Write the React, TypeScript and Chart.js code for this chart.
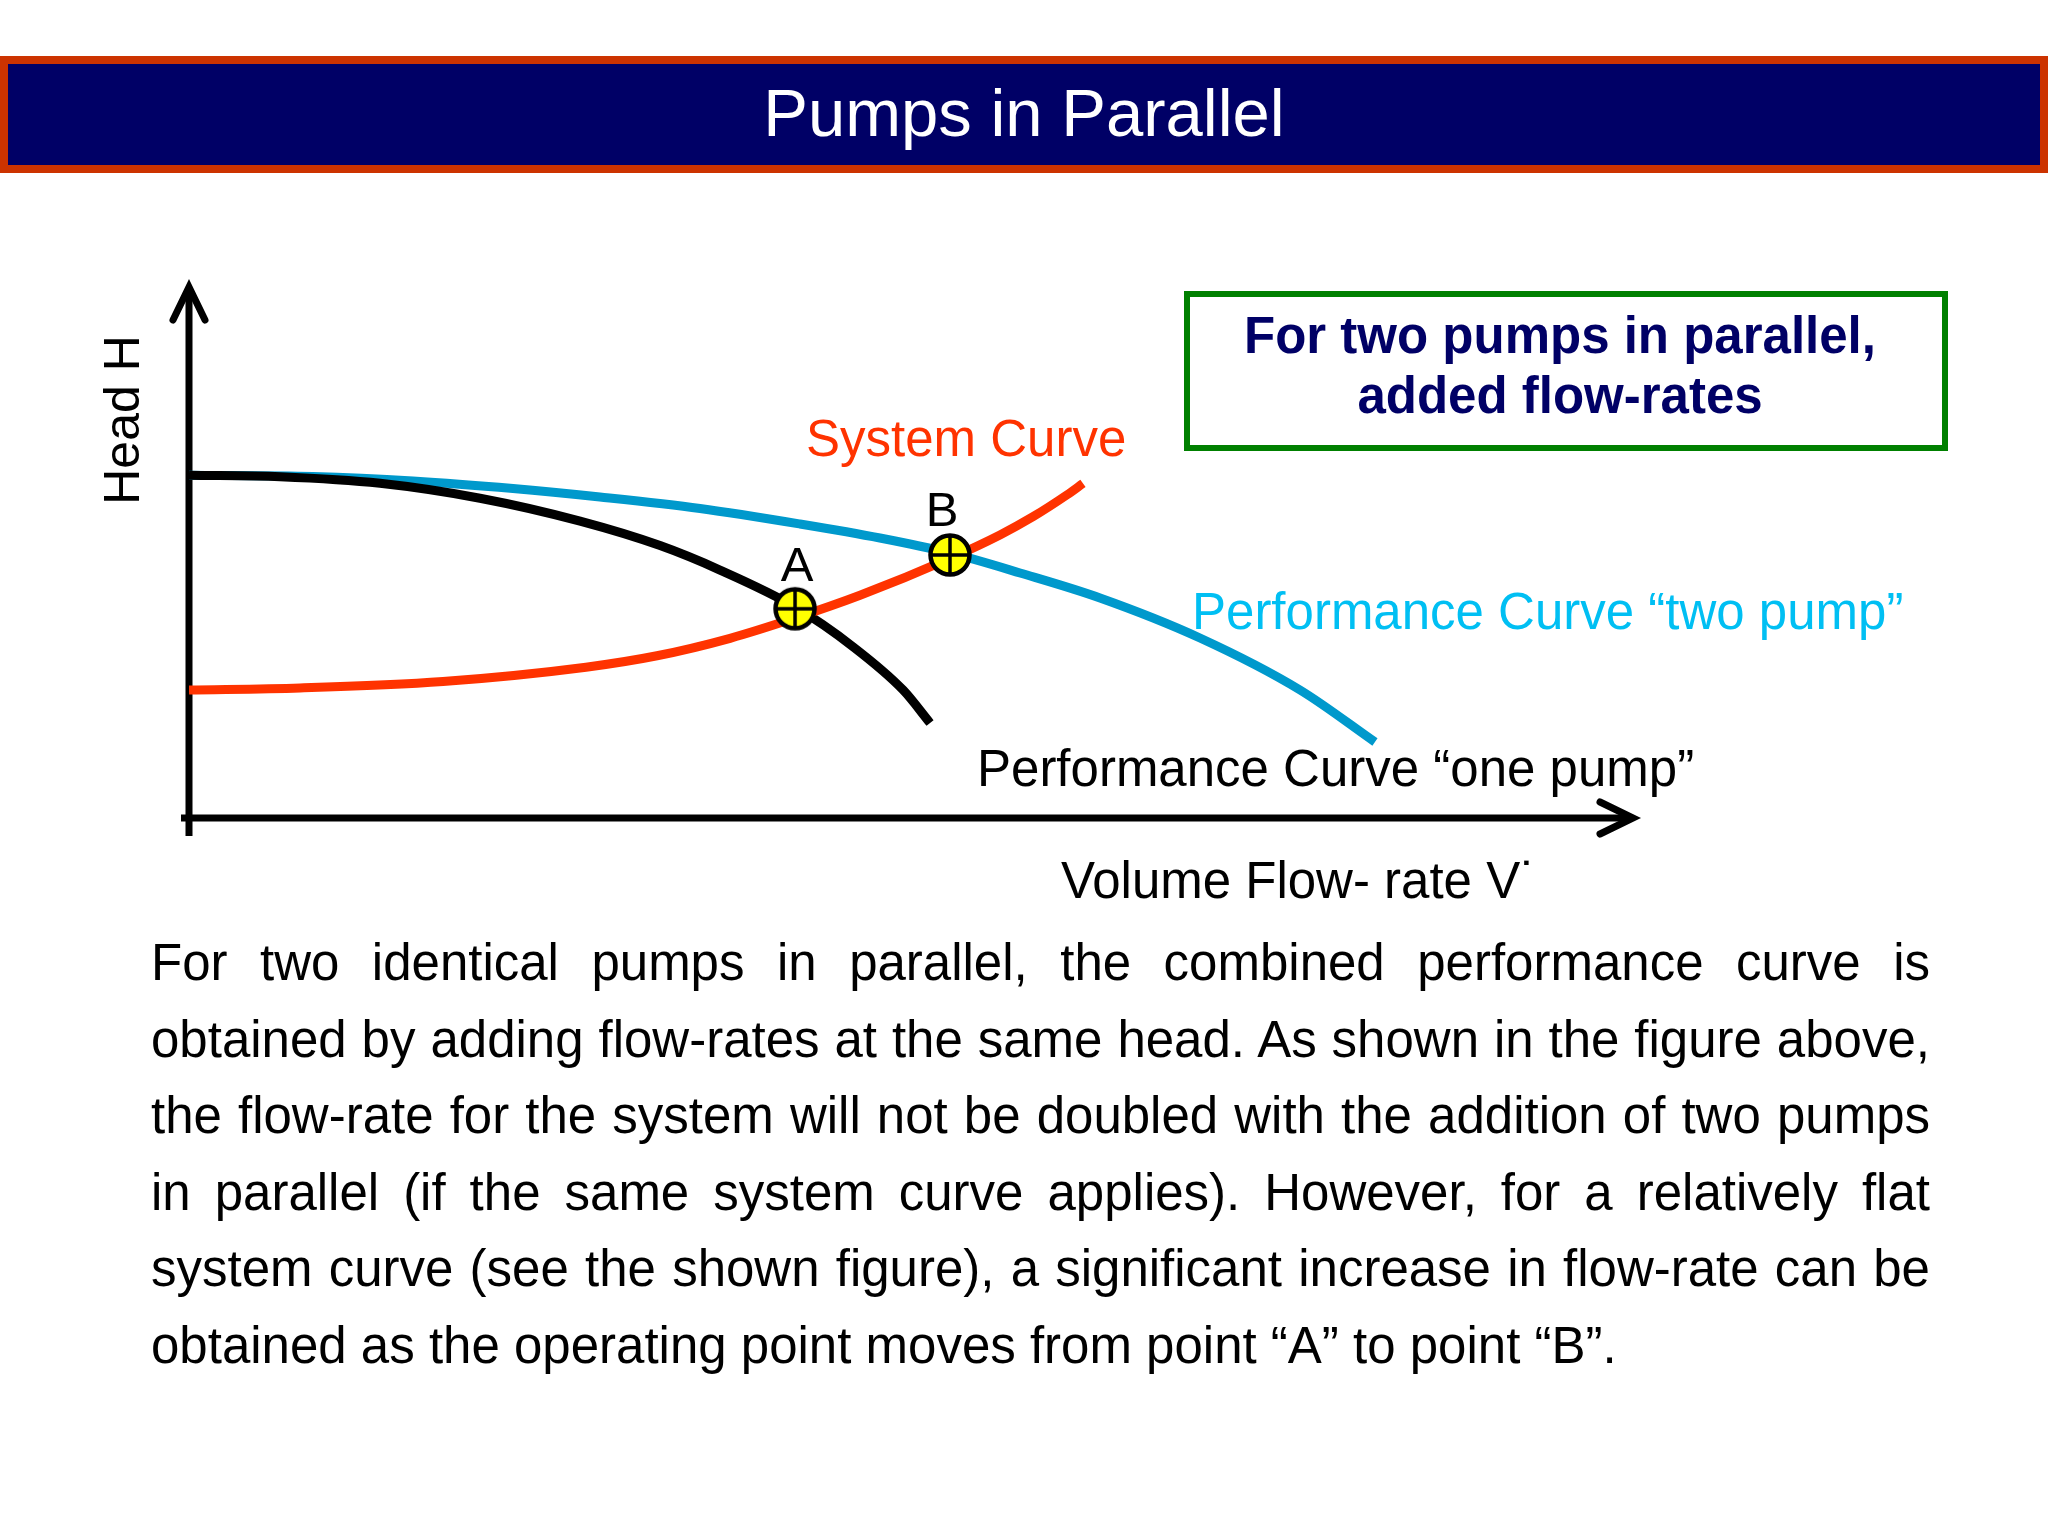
import React, { useEffect, useRef } from 'react';
import { Chart, registerables } from 'chart.js';

Chart.register(...registerables);

const FONT = '"Liberation Sans", Arial, Helvetica, sans-serif';

// ---- Data (flow-rate in % of axis length, head in % of axis height) ----
const onePumpFlow = [0, 6.3, 13.23, 20.15, 27.08, 32.62, 36.77, 41.97, 45.98, 49.45, 51.32];
const onePumpHead = [64.54, 64.27, 63.03, 60.21, 55.9, 51.3, 46.7, 39.74, 32.26, 24.11, 17.89];

const twoPumpFlow = [0, 8.59, 15.51, 22.44, 28.46, 35.39, 42.31, 47.85, 52.7, 57.55, 63.09, 70.01, 76.94, 82.13];
const twoPumpHead = [64.54, 64.31, 63.47, 62.05, 60.45, 58.29, 55.37, 52.73, 49.91, 46.14, 41.43, 33.9, 24.11, 14.31];

const systemFlow = [0, 7.69, 17.59, 27.49, 32.41, 37.47, 41.97, 46.47, 52.7, 56.16, 58.45, 60.8, 61.91];
const systemHead = [24.11, 24.5, 25.71, 28.4, 30.55, 33.84, 37.65, 41.94, 48.89, 53.31, 56.74, 60.85, 63.01];

const pointLabels = ['A', 'B'];
const pointFlow = [41.97, 52.7];
const pointHead = [39.4, 49.53];

const titleText = 'Pumps in Parallel';
const boxLines = ['For two pumps in parallel,', 'added flow-rates'];
const yAxisTitle = 'Head H';
const xAxisTitle = 'Volume Flow- rate V˙';
const systemLabel = 'System Curve';
const twoPumpLabel = 'Performance Curve “two pump”';
const onePumpLabel = 'Performance Curve “one pump”';
const paragraphLines = [
  'For two identical pumps in parallel, the combined performance curve is',
  'obtained by adding flow-rates at the same head. As shown in the figure above,',
  'the flow-rate for the system will not be doubled with the addition of two pumps',
  'in parallel (if the same system curve applies). However, for a relatively flat',
  'system curve (see the shown figure), a significant increase in flow-rate can be',
  'obtained as the operating point moves from point “A” to point “B”.',
];

const toXY = (xs: number[], ys: number[]) => xs.map((x, i) => ({ x, y: ys[i] }));

export default function App() {
  const ref = useRef<HTMLCanvasElement>(null);

  useEffect(() => {
    if (!ref.current) return;
    const marker = document.createElement('canvas');
    marker.width = 48;
    marker.height = 48;
    const m = marker.getContext('2d')!;
    m.beginPath();
    m.arc(24, 24, 19.5, 0, Math.PI * 2);
    m.fillStyle = '#ffff00';
    m.fill();
    m.lineWidth = 4.5;
    m.strokeStyle = '#000';
    m.stroke();
    m.beginPath();
    m.lineWidth = 3.5;
    m.moveTo(24, 5);
    m.lineTo(24, 43);
    m.moveTo(5, 24);
    m.lineTo(43, 24);
    m.stroke();

    const axesPlugin = {
      id: 'arrowAxes',
      beforeDatasetsDraw(chart: any) {
        const ctx = chart.ctx;
        const xs = chart.scales.x;
        const ys = chart.scales.y;
        const x0 = xs.getPixelForValue(0);
        const y0 = ys.getPixelForValue(0);
        const xEnd = xs.getPixelForValue(100);
        const yEnd = ys.getPixelForValue(100);
        ctx.save();
        ctx.strokeStyle = '#000';
        ctx.lineWidth = 7;
        ctx.lineCap = 'butt';
        ctx.beginPath();
        ctx.moveTo(x0, y0 + 18);
        ctx.lineTo(x0, yEnd + 3);
        ctx.moveTo(x0 - 8, y0);
        ctx.lineTo(xEnd - 3, y0);
        ctx.stroke();
        ctx.lineCap = 'round';
        ctx.lineJoin = 'miter';
        ctx.beginPath();
        ctx.moveTo(x0 - 16, yEnd + 33);
        ctx.lineTo(x0, yEnd);
        ctx.lineTo(x0 + 16, yEnd + 33);
        ctx.moveTo(xEnd - 33, y0 - 16);
        ctx.lineTo(xEnd, y0);
        ctx.lineTo(xEnd - 33, y0 + 16);
        ctx.stroke();
        ctx.restore();
      },
    };

    const labelsPlugin = {
      id: 'curveLabels',
      afterDatasetsDraw(chart: any) {
        const ctx = chart.ctx;
        const xs = chart.scales.x;
        const ys = chart.scales.y;
        const x0 = xs.getPixelForValue(0);
        const y0 = ys.getPixelForValue(0);
        ctx.save();
        ctx.textBaseline = 'alphabetic';
        ctx.font = `51px ${FONT}`;
        ctx.textAlign = 'left';
        ctx.fillStyle = '#ff3300';
        ctx.fillText(systemLabel, 806, 456);
        ctx.fillStyle = '#00bff3';
        ctx.fillText(twoPumpLabel, 1192, 629);
        ctx.fillStyle = '#000';
        ctx.fillText(onePumpLabel, 977, 786);
        ctx.fillText(xAxisTitle, 1061, y0 + 80);
        // operating point letters
        const meta = chart.getDatasetMeta(0);
        ctx.font = `49px ${FONT}`;
        ctx.textAlign = 'center';
        meta.data.forEach((el: any, i: number) => {
          const dx = i === 0 ? 2 : -8;
          const dy = i === 0 ? -28 : -29;
          ctx.fillText(pointLabels[i], el.x + dx, el.y + dy);
        });
        // y axis title
        ctx.font = `50px ${FONT}`;
        ctx.translate(x0 - 50, 420);
        ctx.rotate(-Math.PI / 2);
        ctx.textAlign = 'center';
        ctx.fillText(yAxisTitle, 0, 0);
        ctx.restore();
      },
    };

    const curve = (label: string, data: any[], color: string) => ({
      label,
      data,
      showLine: true,
      borderColor: color,
      backgroundColor: color,
      borderWidth: 9,
      borderCapStyle: 'butt',
      pointRadius: 0,
      pointHoverRadius: 0,
      cubicInterpolationMode: 'monotone',
      fill: false,
    });

    const chart = new Chart(ref.current, {
      type: 'scatter',
      data: {
        datasets: [
          {
            label: 'Operating points',
            data: toXY(pointFlow, pointHead),
            showLine: false,
            pointStyle: marker,
            pointRadius: 22,
            pointHoverRadius: 22,
          } as any,
          curve('System Curve', toXY(systemFlow, systemHead), '#ff3300') as any,
          curve('One pump', toXY(onePumpFlow, onePumpHead), '#000000') as any,
          curve('Two pump', toXY(twoPumpFlow, twoPumpHead), '#0099cc') as any,
        ],
      },
      options: {
        responsive: false,
        animation: false,
        events: [],
        layout: { padding: { left: 189, top: 287, right: 415, bottom: 718 } },
        scales: {
          x: { type: 'linear', min: 0, max: 100, display: false },
          y: { type: 'linear', min: 0, max: 100, display: false },
        },
        plugins: {
          legend: { display: false },
          tooltip: { enabled: false },
        },
      },
      plugins: [axesPlugin, labelsPlugin],
    });
    return () => chart.destroy();
  }, []);

  return (
    <div
      style={{
        position: 'absolute',
        left: 0,
        top: 0,
        width: 2048,
        height: 1536,
        overflow: 'hidden',
        background: '#ffffff',
        fontFamily: FONT,
      }}
    >
      <canvas ref={ref} width={2048} height={1536} style={{ position: 'absolute', left: 0, top: 0 }} />
      <div
        style={{
          position: 'absolute',
          left: 0,
          top: 56,
          width: 2048,
          height: 117,
          boxSizing: 'border-box',
          border: '8px solid #cc3300',
          background: '#000066',
        }}
      />
      <div
        style={{
          position: 'absolute',
          left: 0,
          top: 79,
          width: 2048,
          textAlign: 'center',
          color: '#ffffff',
          fontSize: 67,
          lineHeight: '67px',
          whiteSpace: 'nowrap',
        }}
      >
        {titleText}
      </div>
      <div
        style={{
          position: 'absolute',
          left: 1184,
          top: 291,
          width: 764,
          height: 160,
          boxSizing: 'border-box',
          border: '6px solid #008000',
        }}
      />
      <div
        style={{
          position: 'absolute',
          left: 1184,
          top: 306,
          width: 752,
          textAlign: 'center',
          color: '#000066',
          fontWeight: 'bold',
          fontSize: 51,
          lineHeight: '60px',
          whiteSpace: 'nowrap',
        }}
      >
        {boxLines.map((l, i) => (
          <div key={i}>{l}</div>
        ))}
      </div>
      <div
        style={{
          position: 'absolute',
          left: 151,
          top: 925,
          width: 1779,
          color: '#000',
          fontSize: 51,
          lineHeight: '76.5px',
        }}
      >
        {paragraphLines.map((l, i) => (
          <div
            key={i}
            style={{
              textAlign: i < paragraphLines.length - 1 ? 'justify' : 'left',
              textAlignLast: i < paragraphLines.length - 1 ? 'justify' : 'left',
            }}
          >
            {l}
          </div>
        ))}
      </div>
    </div>
  );
}
